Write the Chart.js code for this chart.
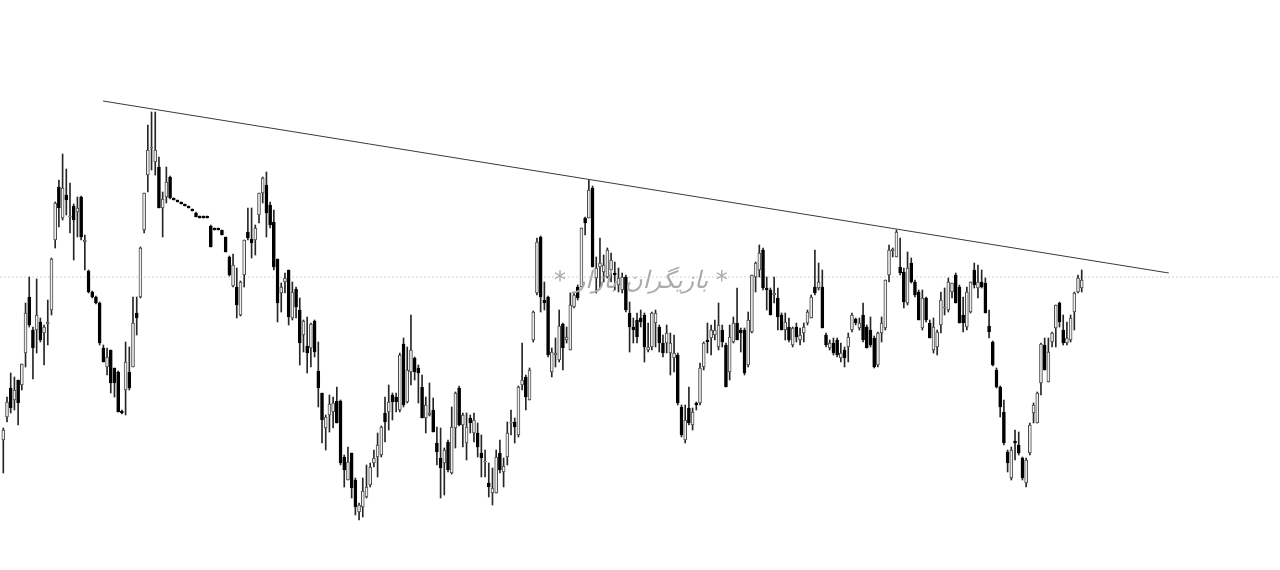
<!DOCTYPE html>
<html><head><meta charset="utf-8">
<script src="https://cdn.jsdelivr.net/npm/chart.js@4.4.1/dist/chart.umd.min.js"></script>
<style>
html,body{margin:0;padding:0;background:#fff;}
#wrap{position:relative;width:1280px;height:570px;}
#wm{position:absolute;left:554px;top:266px;font-family:"DejaVu Sans";font-style:italic;font-size:24px;color:#ababab;white-space:nowrap;}
</style></head><body>
<div id="wrap"><canvas id="c" width="1280" height="570"></canvas><div id="wm">* بازیگران بازار *</div></div>
<script>
const open=[560,583,612,600,620,615,647,703,670,670,
678,667,676,690,760,813,782,805,783,794,
788,803,758,729,708,703,697,652,633,650,
632,628,589,610,628,633,687,703,770,825,
852,838,833,792,803,823,802,800,798,796,
794,791,787,784,784,784,774,772,772,770,
763,743,714,713,685,725,768,761,760,785,
807,815,795,778,741,707,718,730,682,711,
690,665,654,652,679,629,607,572,585,588,
599,599,543,520,547,520,488,493,503,515,
537,543,545,587,588,605,603,590,656,598,
628,642,632,613,582,585,590,557,542,537,
558,527,572,612,575,557,582,567,567,547,
538,517,507,507,547,528,543,577,578,565,
615,623,600,660,707,763,700,703,628,645,
640,676,660,650,693,713,713,782,782,812,
722,733,728,723,730,727,715,710,723,687,
673,680,682,685,650,653,677,673,657,657,
647,642,645,593,560,592,575,597,597,633,
660,662,665,653,670,655,628,658,677,670,
670,635,668,723,730,750,712,710,705,702,
685,670,673,655,673,660,667,677,682,713,
712,713,665,652,657,660,642,650,653,670,
681,672,685,673,670,662,635,667,672,725,
749,743,733,728,697,737,718,708,672,702,
677,650,653,675,692,690,708,725,713,685,
673,688,730,712,718,717,674,658,630,613,
588,548,522,559,555,542,517,547,587,577,
617,655,618,658,672,697,670,657,660,688,
708,712];
const close=[570,598,592,610,597,636,687,675,652,685,
660,673,678,741,797,792,812,800,784,780,
792,763,760,708,703,697,657,638,643,617,
617,588,587,638,612,677,682,752,807,850,
853,850,792,801,818,802,800,798,796,794,
792,789,783,782,782,782,753,770,770,765,
748,725,735,695,718,760,762,757,772,807,
822,787,775,733,697,713,722,683,708,693,
657,679,647,676,648,612,580,583,596,597,
577,537,530,538,512,493,495,509,513,533,
542,555,573,578,598,598,598,645,595,630,
650,628,627,582,595,587,568,548,532,550,
530,573,607,575,585,573,577,580,553,542,
539,513,512,543,530,534,567,578,573,613,
620,603,630,688,758,703,697,645,648,647,
674,652,663,695,705,702,772,777,810,733,
732,737,735,750,740,725,722,723,690,673,
670,663,678,653,653,687,687,657,647,667,
657,647,597,565,580,577,588,595,632,657,
658,670,670,675,658,613,663,677,660,667,
627,680,725,737,747,712,710,685,707,683,
670,678,660,672,663,665,673,688,703,707,
718,672,655,657,647,645,647,642,663,685,
677,677,660,652,655,633,667,677,720,750,
751,768,727,698,732,718,705,680,702,680,
662,673,668,700,693,718,717,697,677,677,
708,718,715,718,713,687,668,635,613,593,
557,537,550,557,547,522,540,575,595,607,
656,630,648,667,695,678,657,662,682,707,
722,720];
const high=[572,603,627,623,620,636,697,723,673,721,
682,675,700,742,798,820,846,831,817,796,
803,804,765,730,709,704,698,655,652,650,
632,629,590,658,653,703,703,753,807,875,
888,888,843,808,833,824,802,800,798,796,
794,791,788,784,784,784,775,772,772,770,
763,744,746,732,719,760,792,792,775,807,
823,828,798,790,741,717,727,730,718,713,
702,680,683,677,680,658,607,585,605,603,
613,600,545,553,547,522,497,522,535,537,
550,567,574,603,615,607,607,647,662,653,
685,643,635,625,603,617,602,573,572,552,
560,593,608,614,587,587,585,587,577,565,
550,537,532,550,560,542,578,590,582,614,
657,625,632,689,762,764,718,704,652,662,
690,677,673,707,708,715,772,783,820,814,
743,762,745,752,747,738,732,727,725,698,
682,687,690,687,677,688,690,675,665,675,
667,665,647,595,595,613,592,598,637,658,
677,675,680,697,675,657,675,683,712,672,
672,688,725,738,755,752,723,712,723,712,
687,687,682,673,677,672,677,690,705,750,
737,730,667,660,662,662,657,653,667,687,
682,682,697,675,683,664,668,683,720,755,
752,770,762,732,748,742,720,710,710,703,
680,682,670,708,712,722,717,727,715,703,
713,718,737,735,730,722,690,659,632,614,
600,550,553,570,568,543,542,577,597,608,
657,662,662,668,695,698,685,678,685,708,
725,730];
const low=[527,578,587,590,575,610,633,673,621,647,
658,635,655,685,752,773,780,785,767,740,
763,760,730,707,702,696,655,638,625,607,
603,588,586,585,610,633,665,702,767,808,
830,825,792,763,797,801,800,798,796,794,
792,789,783,782,782,782,753,770,770,765,
748,724,713,682,684,713,760,742,745,777,
797,763,772,730,678,688,707,675,680,682,
635,648,627,633,643,593,557,550,568,572,
577,535,513,520,502,485,480,483,502,513,
533,523,543,558,570,580,588,588,593,597,
615,620,597,582,567,584,568,535,502,505,
528,526,552,574,553,540,567,558,543,523,
523,503,495,507,527,513,535,565,557,563,
610,590,600,658,705,688,690,643,623,633,
638,630,657,650,692,700,713,765,782,733,
707,712,718,722,718,710,708,707,688,648,
657,657,673,638,648,650,653,648,643,647,
625,628,595,563,557,575,570,590,595,630,
647,645,660,650,653,613,620,657,660,648,
625,633,667,708,723,710,690,685,697,670,
670,660,658,653,658,655,658,675,682,705,
710,672,653,650,645,643,638,633,638,668,
675,670,658,652,653,632,633,658,670,718,
743,743,725,692,695,717,703,680,670,678,
662,647,645,667,685,688,702,697,677,668,
670,687,712,702,712,687,662,634,612,583,
555,528,520,540,545,520,513,545,577,577,
605,630,618,653,653,673,655,655,658,670,
707,708];
const sessions=open.map((_,i)=>i);
const trendX=[26.9,314.5];
const trendY=[899,727];
const lastPrice=[723];

const X_MIN=-0.89, X_MAX=344.5;
const isUp=sessions.map(i=>close[i]>=open[i]);
new Chart(document.getElementById('c'),{
  type:'bar',
  data:{datasets:[
    {type:'line',data:[{x:X_MIN,y:lastPrice[0]},{x:X_MAX,y:lastPrice[0]}],borderColor:'#d2d2d2',borderWidth:1,borderDash:[2,2],pointRadius:0,order:5},
    {data:sessions.map(i=>({x:i,y:[low[i],high[i]]})),backgroundColor:'#262626',barThickness:1,grouped:false,order:3},
    {data:sessions.map(i=>({x:i,y:[open[i],close[i]]})),backgroundColor:isUp.map(u=>u?'#eeeeee':'#000000'),borderColor:isUp.map(u=>u?'#4a4a4a':'#000000'),borderWidth:1,borderSkipped:false,barThickness:3,grouped:false,order:2},
    {type:'line',data:trendX.map((x,k)=>({x:x,y:trendY[k]})),borderColor:'#3a3a3a',borderWidth:1,pointRadius:0,order:1}
  ]},
  options:{
    responsive:false,animation:false,devicePixelRatio:1,
    layout:{padding:0},
    plugins:{legend:{display:false},tooltip:{enabled:false}},
    scales:{
      x:{type:'linear',min:X_MIN,max:X_MAX,offset:false,display:false},
      y:{type:'linear',min:430,max:1000,display:false}
    }
  }
});
</script>
</body></html>
